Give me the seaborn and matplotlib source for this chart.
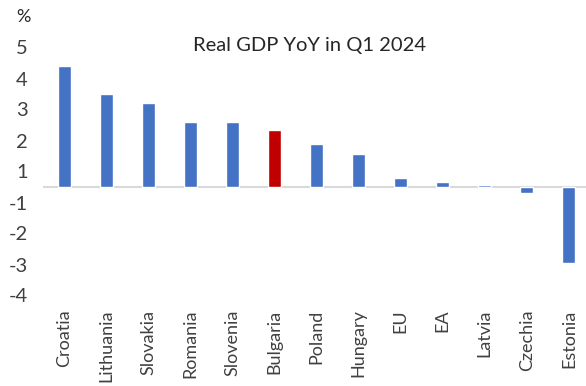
import matplotlib
matplotlib.use("Agg")
import matplotlib.pyplot as plt
import seaborn as sns
import pandas as pd

# Data
countries = ["Croatia", "Lithuania", "Slovakia", "Romania", "Slovenia", "Bulgaria",
             "Poland", "Hungary", "EU", "EA", "Latvia", "Czechia", "Estonia"]
gdp_yoy = [3.9, 3.0, 2.7, 2.1, 2.1, 1.85, 1.4, 1.05, 0.3, 0.17, 0.07, -0.2, -2.45]
highlight = "Bulgaria"

# y tick labels as they appear on the chart (0 omitted, labels sit half a step toward zero)
ytick_pos = [4.5, 3.5, 2.5, 1.5, 0.5, -0.5, -1.5, -2.5, -3.5]
ytick_labels = ["5", "4", "3", "2", "1", "-1", "-2", "-3", "-4"]

df = pd.DataFrame({"country": countries, "value": gdp_yoy})
palette = {c: ("#C00000" if c == highlight else "#4472C4") for c in countries}

sns.set_style("white")
plt.rcParams["font.family"] = ["Lato", "DejaVu Sans"]

fig = plt.figure(figsize=(5.86, 3.86), dpi=100)
ax = fig.add_axes([43 / 586, 1 - 311 / 386, 547 / 586, 279 / 386])

sns.barplot(data=df, x="country", y="value", hue="country", palette=palette,
            width=0.31, legend=False, ax=ax, saturation=1)

ax.set_xlim(-0.5, len(countries) - 0.5)
ax.set_ylim(-4, 5)
ax.axhline(0, color="#d9d9d9", lw=1.5, zorder=0)

ax.set_yticks(ytick_pos)
ax.set_yticklabels(ytick_labels)
ax.tick_params(axis="y", length=0, pad=11, labelsize=14.5, labelcolor="#404040")
ax.tick_params(axis="x", length=0, pad=-1, labelsize=13, labelcolor="#404040", rotation=90)

ax.set_xlabel("")
ax.set_ylabel("")
for s in ax.spines.values():
    s.set_visible(False)

ax.text(0.488, 0.953, "Real GDP YoY in Q1 2024", transform=ax.transAxes,
        ha="center", va="center", fontsize=14.5, color="#262626")
fig.text(23 / 586, 1 - 17 / 386, "%", ha="center", va="center", fontsize=13, color="#262626")

fig.savefig("out.png", dpi=100)
